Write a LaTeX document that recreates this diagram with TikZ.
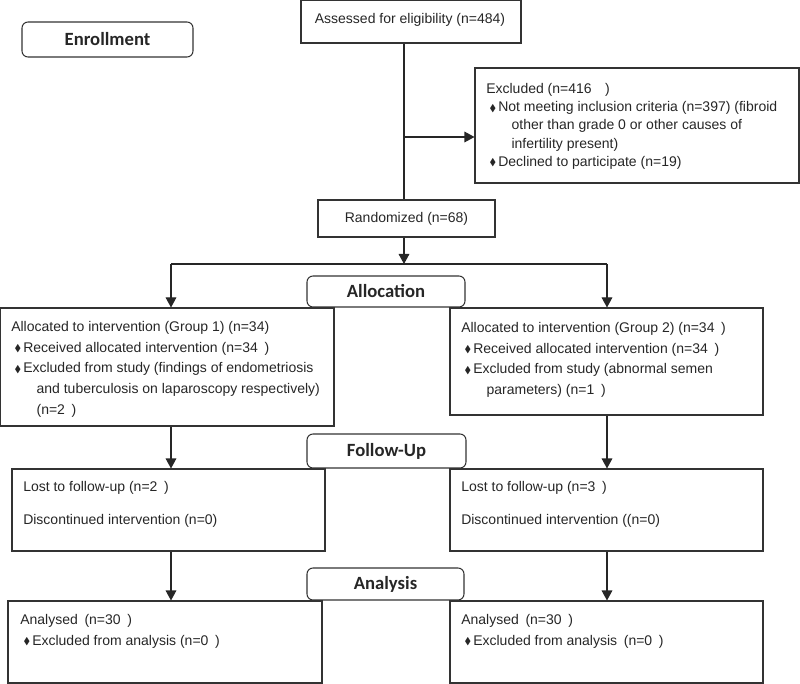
\documentclass[tikz,border=0pt]{standalone}
\usepackage{amssymb}
\usepackage{fontspec}
\setmainfont{Liberation Sans}
\newfontfamily\headfont{Carlito}
\usetikzlibrary{positioning,fit,arrows.meta}
\tikzset{>={Triangle[width=8pt,length=7.5pt]}}
\tikzset{
  box/.style={draw=black!80, line width=0.8pt, inner sep=0pt},
  phase/.style={box, rounded corners=4.5pt},
  head/.style={inner sep=0pt, font=\headfont\bfseries\fontsize{14}{16}\selectfont, text=black!85},
  txt/.style={anchor=north west, inner sep=0pt, align=left,
    font=\fontsize{10.5}{15.4}\selectfont, text=black!85},
  mid/.style={txt, anchor=center},
  line/.style={draw=black!85, line width=0.8pt},
  arr/.style={line, ->}
}
\newcommand{\bul}{\makebox[9pt][l]{\hspace{2.5pt}\raisebox{0.4pt}{\scalebox{0.7}{$\blacklozenge$}}}}
\newcommand{\cont}{\hspace*{19pt}}
\newcommand{\gap}{\hspace{5pt}}

\begin{document}
\begin{tikzpicture}[x=0.75pt,y=-0.75pt]
		\useasboundingbox (0,0) rectangle (800,684);

		% enrollment
		\node[phase, fit={(22,22) (193,57)}] (enroll) {};
		\node[head] (enrollt) at (enroll.center) {Enrollment};
		\node[box, fit={(301,0.7) (521,43)}] (assess) {};
		\node[mid] (assesst) at (410,19.5) {Assessed for eligibility (n=484)};
		\node[box, fit={(475,68) (799,183)}] (excl) {};
		\node[txt, font=\fontsize{10.5}{13.7}\selectfont] (exclt) at (486,83)
			{Excluded (n=416\gap\gap)\\
			 \bul Not meeting inclusion criteria (n=397) (fibroid\\
			 \cont other than grade 0 or other causes of\\
			 \cont infertility present)\\
			 \bul Declined to participate (n=19)};
		\node[box, fit={(318,200) (495,237)}] (rand) {};
		\node[mid] (randt) at (rand.center) {Randomized (n=68)};

		% allocation
		\node[phase, fit={(307,276) (465,307)}] (alloc) {};
		\node[head] (alloct) at (alloc.center) {Allocation};
		\node[box, fit={(0.7,308) (334,426)}] (al1) {};
		\node[txt] (al1t) at (11,321.5)
			{Allocated to intervention (Group 1) (n=34)\\
			 \bul Received allocated intervention (n=34\gap)\\
			 \bul Excluded from study (findings of endometriosis\\
			 \cont and tuberculosis on laparoscopy respectively)\\
			 \cont (n=2\gap)};
		\node[box, fit={(450,308) (763,415)}] (al2) {};
		\node[txt] (al2t) at (461,322.5)
			{Allocated to intervention (Group 2) (n=34\gap)\\
			 \bul Received allocated intervention (n=34\gap)\\
			 \bul Excluded from study (abnormal semen\\
			 \cont parameters) (n=1\gap)};

		% follow-up
		\node[phase, fit={(307,434) (466,468)}] (follow) {};
		\node[head] (followt) at (follow.center) {Follow-Up};
		\node[box, fit={(12,469) (325,551)}] (lo1) {};
		\node[txt] (lo1t) at (23,481.5)
			{Lost to follow-up (n=2\gap)\\[9.4pt]
			 Discontinued intervention (n=0)};
		\node[box, fit={(450,469) (763,551)}] (lo2) {};
		\node[txt] (lo2t) at (461,481.5)
			{Lost to follow-up (n=3\gap)\\[9.4pt]
			 Discontinued intervention ((n=0)};

		% analysis
		\node[phase, fit={(307,568) (464,600)}] (analysis) {};
		\node[head] (analysist) at (analysis.center) {Analysis};
		\node[box, fit={(8,601) (322,683)}] (an1) {};
		\node[txt] (an1t) at (20,614.5)
			{Analysed\gap(n=30\gap)\\
			 \bul Excluded from analysis (n=0\gap)};
		\node[box, fit={(450,601) (763,683)}] (an2) {};
		\node[txt] (an2t) at (461,614.5)
			{Analysed\gap(n=30\gap)\\
			 \bul Excluded from analysis\gap(n=0\gap)};

		\coordinate (split) at (404,137);
		\coordinate (fork) at (404,264);
		\coordinate (forkL) at (171,264);
		\coordinate (forkR) at (607,264);

		\draw[line] (assess.south -| split) -- (rand.north -| split);
		\draw[arr] (split) -- (excl.west |- split);
		\draw[arr] (rand.south -| fork) -- (fork);
		\draw[line] (forkL) -- (forkR);
		\draw[arr] (forkL) -- (al1.north -| forkL);
		\draw[arr] (forkR) -- (al2.north -| forkR);
		\draw[arr] (al1.south -| forkL) -- (lo1.north -| forkL);
		\draw[arr] (al2.south -| forkR) -- (lo2.north -| forkR);
		\draw[arr] (lo1.south -| forkL) -- (an1.north -| forkL);
		\draw[arr] (lo2.south -| forkR) -- (an2.north -| forkR);
	\end{tikzpicture}
\end{document}
